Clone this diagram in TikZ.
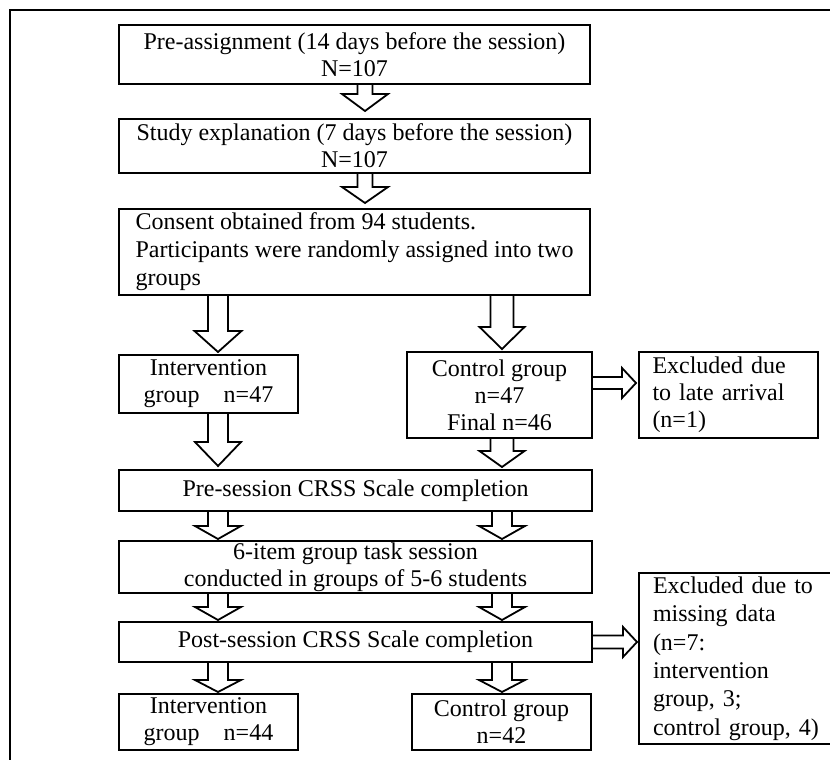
\documentclass[tikz,border=0pt]{standalone}
\usepackage{fontspec}
\setmainfont{Liberation Serif}
\usetikzlibrary{calc}
\tikzset{
	box/.style={draw, line width=1pt, inner sep=0pt, align=center},
	blk/.style={line width=0.9pt, line join=miter}
}
\newcommand{\hollowarrow}[5]{%
	\coordinate (ha) at (#1);
	\coordinate (hz) at (#2);
	\coordinate (hb) at ($(hz)!#5!(ha)$);
	\draw[blk] ($(ha)!#3!90:(hz)$)--($(hb)!#3!90:(hz)$)--($(hb)!#4!90:(hz)$)--(hz)
	--($(hb)!#4!-90:(hz)$)--($(hb)!#3!-90:(hz)$)--($(ha)!#3!-90:(hz)$);
}
\begin{document}
\begin{tikzpicture}[x=0.5pt, y=-0.5pt, font=\fontsize{12}{13.5}\selectfont]
	\useasboundingbox (0,0) rectangle (830,760);
	\clip (0,0) rectangle (830,760);
	\draw[line width=1pt] (10,800)--(10,10)--(850,10);
	\coordinate (c0) at (365,0);
	\coordinate (cl) at (218,0);
	\coordinate (cr) at (502,0);
	\coordinate (r1) at (0,383);
	\node[box, minimum width=235.5pt, minimum height=29.5pt] (pre) at (354.5,54.5) {Pre-assignment (14 days before the session)\\N=107};
	\node[box, minimum width=235.5pt, minimum height=27pt] (expl) at (354.5,146) {Study explanation (7 days before the session)\\N=107};
	\node[box, align=left, minimum width=235.5pt, minimum height=43pt, font=\fontsize{12}{14}\selectfont] (cons) at (354.5,252) {Consent obtained from 94 students.\\Participants were randomly assigned into two\\groups};
	\node[box, minimum width=89.5pt, minimum height=29pt] (intv) at (208.5,384) {Intervention\\group\quad n=47};
	\node[box, minimum width=92.5pt, minimum height=43pt] (ctrl) at (499.5,395) {Control group\\n=47\\Final n=46};
	\node[box, align=left, text width=76pt, inner xsep=6.75pt, minimum height=43pt] (late) at (728.5,395) {Excluded due\\to late arrival\\(n=1)};
	\node[box, minimum width=236.5pt, minimum height=20.5pt] (presess) at (355.5,490.5) {Pre-session CRSS Scale completion};
	\node[box, minimum width=236.5pt, minimum height=26pt] (task) at (355.5,567) {6-item group task session\\conducted in groups of 5-6 students};
	\node[box, minimum width=236.5pt, minimum height=20pt] (post) at (355.5,642) {Post-session CRSS Scale completion};
	\node[box, anchor=north west, align=left, text width=100pt, inner xsep=7pt, minimum height=85.5pt, font=\fontsize{12}{14.2}\selectfont] (miss) at (638,572) {Excluded due to\\missing data\\(n=7:\\intervention\\group, 3;\\control group, 4)};
	\node[box, minimum width=89.5pt, minimum height=28pt] (intv2) at (208.5,722) {Intervention\\group\quad n=44};
	\node[box, minimum width=89.5pt, minimum height=28pt] (ctrl2) at (501.5,722) {Control group\\n=42};
	\hollowarrow{pre.south -| c0}{$(expl.north -| c0)+(0,-7)$}{3.75pt}{11.5pt}{8.5pt}
	\hollowarrow{expl.south -| c0}{$(cons.north -| c0)+(0,-5)$}{3.75pt}{11.5pt}{8pt}
	\hollowarrow{cons.south -| cl}{$(intv.north -| cl)+(0,-2)$}{5pt}{11.75pt}{10.5pt}
	\hollowarrow{cons.south -| cr}{$(ctrl.north -| cr)+(0,-2)$}{5.75pt}{11.25pt}{11pt}
	\hollowarrow{intv.south -| cl}{$(presess.north -| cl)+(0,-3)$}{5pt}{11.5pt}{12pt}
	\hollowarrow{ctrl.south -| cr}{$(presess.north -| cr)+(0,-2)$}{5.75pt}{11.25pt}{8pt}
	\foreach \s/\t in {presess/task,task/post}
	\foreach \c in {cl,cr}
	{\hollowarrow{\s.south -| \c}{$(\t.north -| \c)+(0,-1)$}{5pt}{11.5pt}{6.5pt}}
	\hollowarrow{post.south -| cl}{$(intv2.north -| cl)+(0,-1)$}{5pt}{11.5pt}{6pt}
	\hollowarrow{post.south -| cr}{$(ctrl2.north -| cr)+(0,-1)$}{5pt}{11.5pt}{6pt}
	\hollowarrow{ctrl.east |- r1}{$(late.west |- r1)+(-2,0)$}{3pt}{7.5pt}{7pt}
	\hollowarrow{post.east}{$(post.east -| miss.west)+(-1,0)$}{3.25pt}{7.5pt}{7pt}
\end{tikzpicture}
\end{document}
